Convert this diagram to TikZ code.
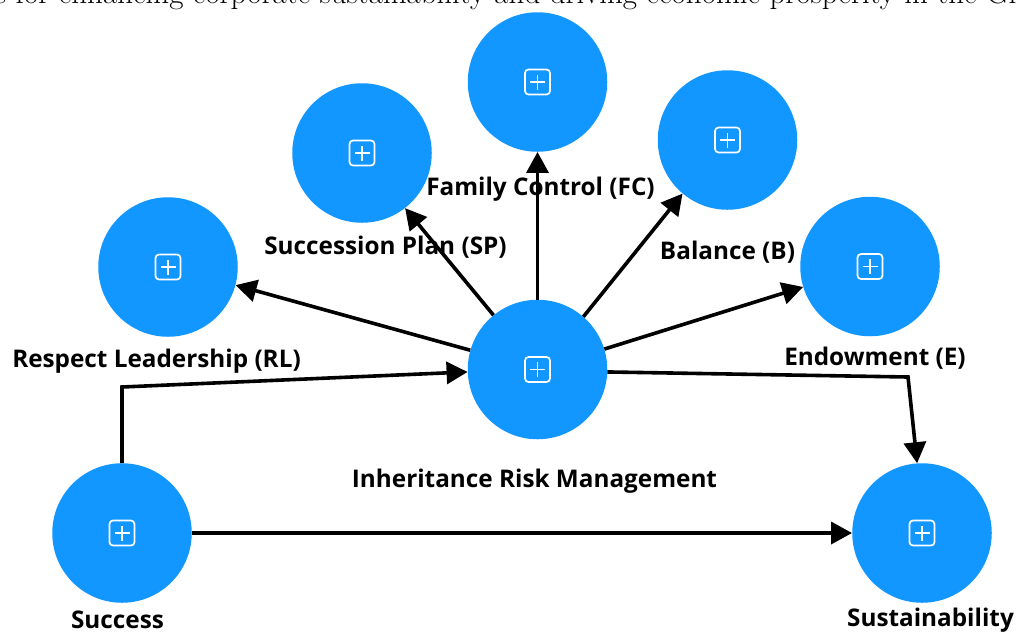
\documentclass[tikz,border=0pt]{standalone}
\usepackage{fontspec}
\setsansfont{Open Sans}
\usetikzlibrary{arrows.meta}
\definecolor{blob}{RGB}{18,150,255}
\tikzset{
  blobnode/.style={circle,fill=blob,draw=none,minimum size=139.5pt,inner sep=0pt},
  lab/.style={font=\fontsize{24.3}{26}\selectfont\sffamily\bfseries,text=black,inner sep=0pt,anchor=center},
  conn/.style={line width=3.6pt,black,-{Triangle[length=21pt,width=22pt]},line join=miter},
  expander/.pic={
    \draw[white,line width=1.7pt,rounded corners=3.5pt] (-12.5pt,-12.5pt) rectangle (12.5pt,12.5pt);
    \draw[white,line width=1.5pt] (-7.5pt,0pt) -- (7.5pt,0pt) (0pt,-7.5pt) -- (0pt,7.5pt);
  }
}
\begin{document}
\begin{tikzpicture}[x=1pt,y=-1pt]
\useasboundingbox (0,0) rectangle (1016,633);
\begin{scope}
\clip (0,0) rectangle (1016,633);
\node[anchor=base west,inner sep=0pt,font=\fontsize{31}{34}\selectfont] (headline) at (-5,3.5) {s for enhancing corporate sustainability and driving economic prosperity in the Gl};
\end{scope}
\node[blobnode] (fc) at (537.5,82) {};
\node[blobnode] (sp) at (362,153) {};
\node[blobnode] (b) at (727.5,140) {};
\node[blobnode] (rl) at (168,267) {};
\node[blobnode] (e) at (870,266.5) {};
\node[blobnode] (irm) at (537.5,369.5) {};
\node[blobnode] (succ) at (122,533) {};
\node[blobnode] (sust) at (922,533) {};
\foreach \n in {fc,sp,b,rl,e,irm,succ,sust} \pic at (\n) {expander};
\coordinate (bendright) at (908,377);
\coordinate (bendleft) at (122,387);
\draw[conn] (irm.164) -- (rl.345);
\draw[conn] (irm.129) -- (sp.308.5);
\draw[conn] (irm.90) -- (fc.270);
\draw[conn] (irm.49.6) -- (b.230);
\draw[conn] (irm.17) -- (e.197);
\draw[conn] (irm.-2) -- (bendright) -- (sust.94);
\draw[conn] (succ.90) -- (bendleft) -- (irm.182.5);
\draw[conn] (succ.0) -- (sust.180);
\node[lab] (lfc) at (540.5,189.5) {Family Control (FC)};
\node[lab] (lsp) at (385.5,247.5) {Succession Plan (SP)};
\node[lab] (lb) at (727.5,252) {Balance (B)};
\node[lab] (lrl) at (156.5,361.5) {Respect Leadership (RL)};
\node[lab] (le) at (875,358) {Endowment (E)};
\node[lab] (lirm) at (534.5,481.5) {Inheritance Risk Management};
\node[lab] (lsucc) at (117.5,619.5) {Success};
\node[lab] (lsust) at (930.5,620) {Sustainability};
\end{tikzpicture}
\end{document}
